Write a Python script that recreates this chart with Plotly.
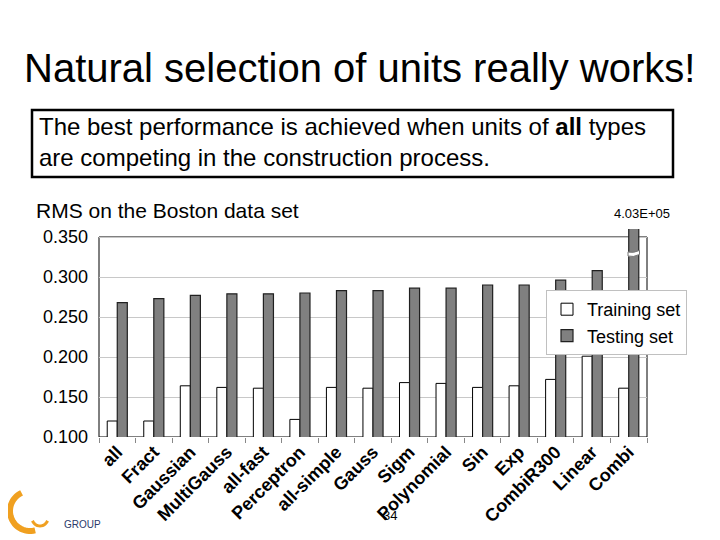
import numpy as np
import plotly.graph_objects as go

categories = ["all", "Fract", "Gaussian", "MultiGauss", "all-fast", "Perceptron",
              "all-simple", "Gauss", "Sigm", "Polynomial", "Sin", "Exp",
              "CombiR300", "Linear", "Combi"]
training = [0.120, 0.120, 0.164, 0.162, 0.161, 0.122, 0.162, 0.161, 0.168,
            0.167, 0.162, 0.164, 0.172, 0.201, 0.161]
testing = [0.268, 0.273, 0.277, 0.279, 0.279, 0.280, 0.283, 0.283, 0.286,
           0.286, 0.290, 0.290, 0.296, 0.308, 403000.0]
ytickvals = [0.100, 0.150, 0.200, 0.250, 0.300, 0.350]
yticktext = ["0.100", "0.150", "0.200", "0.250", "0.300", "0.350"]
outlier_label = "4.03E+05"

FONT = "Liberation Sans, Arial, sans-serif"

# page offset of the figure (browser body margin)
OFF = 8
# plot area in page pixels
L, R, T, B = 99, 647, 229, 437
W, H = 720 - OFF, 540 - OFF


def px(x):
    return (x - L) / (R - L)


def py(y):
    return (B - y) / (B - T)


fig = go.Figure()
fig.add_trace(go.Bar(x=categories, y=training, name="Training set",
                     marker=dict(color="white", line=dict(color="black", width=1)),
                     legendgroup="a"))
fig.add_trace(go.Bar(x=categories, y=testing, name="Testing set",
                     marker=dict(color="#808080", line=dict(color="#202020", width=1.2)),
                     legendgroup="b"))

shapes = []
# chart frame (0.100 .. 0.350)
shapes.append(dict(type="rect", xref="paper", yref="y", x0=0, x1=1, y0=0.1, y1=0.35,
                   line=dict(color="black", width=1), layer="between"))
# axis break on the outlier bar
ci = len(categories) - 1
bw = 0.275
shapes.append(dict(type="path", xref="x", yref="y", layer="above",
                   path=(f"M {ci-0.02},0.3262 Q {ci+0.12},0.3242 {ci+bw+0.02},0.3282 "
                         f"L {ci+bw+0.02},0.3332 Q {ci+0.12},0.3294 {ci-0.02},0.3314 Z"),
                   fillcolor="white", line=dict(color="#777", width=1)))
# text box
shapes.append(dict(type="rect", xref="paper", yref="paper",
                   x0=px(32), x1=px(673), y0=py(177), y1=py(110),
                   line=dict(color="black", width=2.5)))
# orange logo arc
ang = np.linspace(np.radians(115), np.radians(285), 30)
cx, cy, r = 30, 511, 20
pts = [(cx + r * np.cos(a), cy - r * np.sin(a)) for a in ang]
pth = "M " + " L ".join(f"{px(x):.4f},{py(y):.4f}" for x, y in pts)
shapes.append(dict(type="path", xref="paper", yref="paper", path=pth,
                   line=dict(color="#f0a020", width=6)))
ang2 = np.linspace(np.radians(200), np.radians(340), 15)
pts2 = [(40 + 8 * np.cos(a), 518 - 8 * np.sin(a)) for a in ang2]
pth2 = "M " + " L ".join(f"{px(x):.4f},{py(y):.4f}" for x, y in pts2)
shapes.append(dict(type="path", xref="paper", yref="paper", path=pth2,
                   line=dict(color="#f0a020", width=3)))

annotations = [
    dict(text="Natural selection of units really works!", x=px(359), y=py(68),
         xref="paper", yref="paper", showarrow=False, xanchor="center", yanchor="middle",
         font=dict(family=FONT, size=40, color="black")),
    dict(text="The best performance is achieved when units of <b>all</b> types<br>"
              "are competing in the construction process.",
         x=px(37), y=py(142), xref="paper", yref="paper", showarrow=False,
         xanchor="left", yanchor="middle", align="left",
         font=dict(family=FONT, size=24, color="black")),
    dict(text="RMS on the Boston data set", x=px(34), y=py(210), xref="paper", yref="paper",
         showarrow=False, xanchor="left", yanchor="middle",
         font=dict(family=FONT, size=21, color="black")),
    dict(text=outlier_label, x=px(642), y=py(213), xref="paper", yref="paper",
         showarrow=False, xanchor="center", yanchor="middle",
         font=dict(family=FONT, size=13, color="black")),
    dict(text="34", x=px(390), y=py(515), xref="paper", yref="paper",
         showarrow=False, xanchor="center", yanchor="middle",
         font=dict(family=FONT, size=13, color="black")),
    dict(text="GROUP", x=px(62), y=py(524), xref="paper", yref="paper",
         showarrow=False, xanchor="left", yanchor="middle",
         font=dict(family=FONT, size=10, color="#2a3a6a")),
]

fig.update_layout(
    width=W, height=H,
    margin=dict(l=L - OFF, r=(720 - R), t=T - OFF, b=(540 - B), pad=0, autoexpand=False),
    paper_bgcolor="white", plot_bgcolor="white",
    barmode="group", bargap=0.45, bargroupgap=0,
    showlegend=True,
    legend=dict(x=px(546), y=py(290), xanchor="left", yanchor="top",
                bgcolor="white", bordercolor="#c0c0c0", borderwidth=1,
                font=dict(family=FONT, size=18, color="black"),
                traceorder="grouped", tracegroupgap=0, itemwidth=30),
    font=dict(family=FONT, color="black"),
    shapes=shapes,
    annotations=annotations,
)
fig.update_xaxes(type="category", tickangle=-45, ticks="outside", tickson="boundaries",
                 ticklen=5, tickcolor="#888", showline=False, showgrid=False,
                 tickfont=dict(family=FONT, size=18, color="black", weight="bold"))
fig.update_yaxes(range=[0.1, 0.36], tickvals=ytickvals, ticktext=yticktext,
                 showgrid=True, gridcolor="#c8c8c8", gridwidth=1, zeroline=False,
                 showline=False, ticks="", ticklabelstandoff=10,
                 tickfont=dict(family=FONT, size=18, color="black"))

fig.write_html("out.html")
